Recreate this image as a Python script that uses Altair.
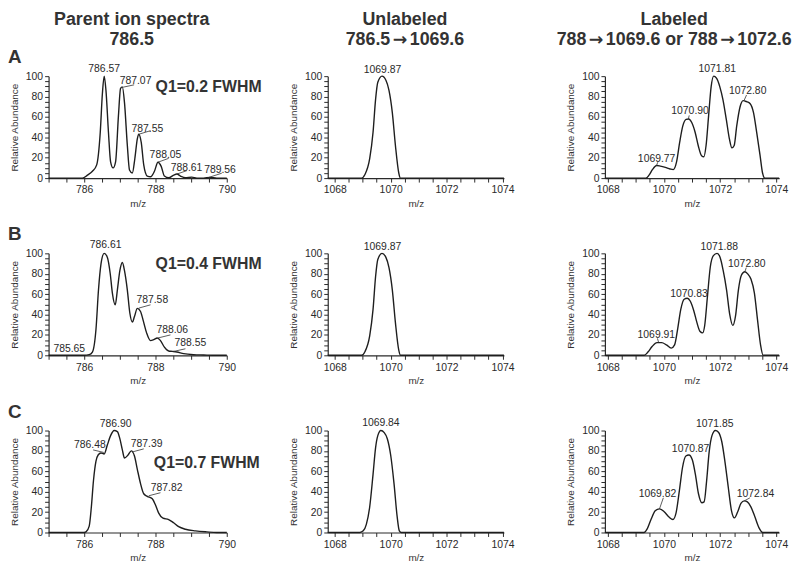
import altair as alt
import pandas as pd

FONT = "Liberation Sans"
INK = "#2a2a2a"

# ---------------- spectra ----------------
parA_mz = [785.00, 785.95, 786.09, 786.23, 786.35, 786.45, 786.51, 786.56, 786.61, 786.68, 786.74, 786.81,
           786.88, 786.96, 787.02, 787.07, 787.13, 787.21, 787.27, 787.35, 787.42, 787.49, 787.53, 787.60,
           787.67, 787.77, 787.86, 787.97, 788.07, 788.16, 788.25, 788.37, 788.51, 788.60, 788.70, 788.84,
           789.02, 789.16, 789.35, 789.53, 789.72, 790.00]
parA_int = [0, 0, 2.9, 6.7, 13, 45, 83, 100, 86, 45, 16, 10,
            16, 61, 88, 89.5, 74, 32, 8, 5, 19, 38.5, 43, 35,
            13, 2, 1.3, 6.7, 15.6, 11.5, 2, 0.3, 3, 4, 2, 0.3,
            1, 0, 0, 0.6, 0, 0]

parB_mz = [785.00, 786.00, 786.14, 786.23, 786.33, 786.40, 786.47, 786.56, 786.65, 786.73, 786.79, 786.87,
           786.93, 787.00, 787.07, 787.13, 787.21, 787.28, 787.35, 787.41, 787.49, 787.58, 787.66, 787.75,
           787.86, 787.95, 788.05, 788.14, 788.25, 788.37, 788.47, 788.60, 788.79, 789.07, 789.35, 789.72, 790.00]
parB_int = [0, 0, 0.6, 3.2, 25.6, 64, 89.5, 100, 96, 80, 61, 49.5,
            64, 83, 91, 83, 64, 41.5, 32.6, 38, 46, 43, 33.5, 22,
            14.4, 15.3, 17, 14.4, 8, 4.2, 3.8, 3.2, 1.6, 0.6, 0.3, 0, 0]

parC_mz = [785.00, 786.00, 786.05, 786.14, 786.20, 786.26, 786.33, 786.39, 786.47, 786.56, 786.65, 786.74,
           786.84, 786.93, 787.00, 787.07, 787.13, 787.23, 787.32, 787.41, 787.49, 787.58, 787.67, 787.77,
           787.91, 788.00, 788.09, 788.21, 788.37, 788.51, 788.65, 788.84, 789.12, 789.44, 789.72, 790.00]
parC_int = [0, 0, 0.6, 6.3, 25, 51, 70, 76, 78, 77, 86, 95,
            100, 99, 92, 81, 73, 76, 80, 75, 62, 48, 38, 35.5,
            33, 27, 19, 14, 12.7, 9.5, 5.7, 3.2, 1.6, 0.6, 0, 0]

unlA_mz = [1067.75, 1068.96, 1069.08, 1069.25, 1069.37, 1069.46, 1069.54, 1069.69, 1069.83, 1069.94,
           1070.06, 1070.17, 1070.29, 1070.35, 1074.05]
unlA_int = [0, 0, 3.5, 19, 45, 77, 94, 100, 96, 86, 64, 32, 5, 0, 0]

unlB_mz = [1067.75, 1068.96, 1069.08, 1069.25, 1069.37, 1069.46, 1069.54, 1069.69, 1069.83, 1069.94,
           1070.06, 1070.17, 1070.29, 1070.35, 1074.05]
unlB_int = [0, 0, 3.5, 19, 45, 77, 94, 100, 96, 86, 64, 32, 5, 0, 0]

unlC_mz = [1067.75, 1068.90, 1069.02, 1069.13, 1069.25, 1069.37, 1069.46, 1069.54, 1069.65, 1069.77,
           1069.88, 1070.00, 1070.12, 1070.23, 1070.31, 1070.38, 1074.05]
unlC_int = [0, 0, 1.6, 8, 25, 57, 83, 95, 100, 98, 92, 76, 48, 16, 1.6, 0, 0]

labA_mz = [1067.9, 1069.36, 1069.47, 1069.59, 1069.74, 1069.87, 1070.05, 1070.22, 1070.33, 1070.45,
           1070.56, 1070.67, 1070.79, 1070.88, 1070.99, 1071.11, 1071.22, 1071.34, 1071.42, 1071.50,
           1071.59, 1071.68, 1071.77, 1071.87, 1071.99, 1072.10, 1072.22, 1072.33, 1072.42, 1072.50,
           1072.59, 1072.71, 1072.82, 1072.94, 1073.07, 1073.19, 1073.30, 1073.42, 1073.51, 1073.59, 1074.1]
labA_int = [0, 0, 2.9, 8.3, 12.4, 11.8, 10.5, 8.9, 8.3, 16,
            35, 51, 57.6, 58, 54.5, 45, 32, 22, 21, 32,
            61, 89.5, 100, 98, 89.5, 77, 57.6, 38.5, 29.6, 32,
            51, 70, 76, 75, 73, 64, 45, 22.6, 5, 0, 0]

labB_mz = [1067.9, 1069.30, 1069.43, 1069.58, 1069.75, 1069.92, 1070.09, 1070.26, 1070.38, 1070.49,
           1070.60, 1070.72, 1070.83, 1070.94, 1071.06, 1071.17, 1071.28, 1071.38, 1071.45, 1071.55,
           1071.65, 1071.76, 1071.89, 1072.00, 1072.11, 1072.23, 1072.34, 1072.45, 1072.55, 1072.65,
           1072.76, 1072.88, 1072.99, 1073.10, 1073.22, 1073.33, 1073.44, 1073.53, 1074.1]
labB_int = [0, 0, 3.2, 8.6, 12.4, 12.4, 10.2, 7, 10.2, 26,
            45, 55, 56, 53, 44, 32.5, 23.6, 22, 29, 58,
            86.6, 97.8, 100, 96, 83, 64, 40.4, 29.3, 38.9, 64,
            78.7, 82, 79.6, 74.5, 61, 35, 10, 0, 0]

labC_mz = [1067.9, 1069.29, 1069.41, 1069.54, 1069.69, 1069.84, 1070.00, 1070.18, 1070.32, 1070.43,
           1070.55, 1070.66, 1070.78, 1070.89, 1071.01, 1071.12, 1071.23, 1071.35, 1071.43, 1071.52,
           1071.61, 1071.71, 1071.83, 1071.94, 1072.06, 1072.17, 1072.29, 1072.40, 1072.51, 1072.63,
           1072.74, 1072.86, 1072.97, 1073.09, 1073.23, 1073.38, 1073.52, 1074.1]
labC_int = [0, 0, 3.8, 12.7, 21.3, 23.2, 20.6, 15.2, 12.7, 19,
            41, 63.5, 75, 76, 71.4, 57, 38, 29.2, 30, 50.8,
            79, 95, 100, 98.4, 89, 69.8, 44.4, 22, 14.3, 20.6,
            28.6, 31, 30, 25.4, 15.9, 4.8, 0, 0]

# ---------------- peak annotations ----------------
# label text, label centre m/z, label baseline abundance
parA_lab = [("786.57", 786.56, 104), ("787.07", 787.44, 92), ("787.55", 787.77, 45),
            ("788.05", 788.28, 20), ("788.61", 788.87, 6.7), ("789.56", 789.81, 5)]
parB_lab = [("786.61", 786.60, 105), ("787.58", 787.91, 51), ("788.06", 788.47, 21.7),
            ("788.55", 788.98, 9.6), ("785.65", 785.58, 3.2)]
parC_lab = [("786.90", 786.88, 103), ("786.48", 786.16, 83), ("787.39", 787.75, 84),
            ("787.82", 788.31, 41)]
unlA_lab = [("1069.87", 1069.71, 103)]
unlB_lab = [("1069.87", 1069.71, 103)]
unlC_lab = [("1069.84", 1069.65, 104)]
labA_lab = [("1069.77", 1069.74, 16.2), ("1070.90", 1070.93, 62.4), ("1071.81", 1071.90, 104),
            ("1072.80", 1072.98, 82.5)]
labB_lab = [("1069.91", 1069.73, 17.2), ("1070.83", 1070.89, 57.3), ("1071.88", 1071.97, 103),
            ("1072.80", 1072.95, 86.6)]
labC_lab = [("1069.82", 1069.77, 35), ("1070.87", 1070.95, 79), ("1071.85", 1071.81, 103),
            ("1072.84", 1073.26, 35)]

# leader lines: m/z1, ab1, m/z2, ab2
parA_lead = [(787.07, 89, 787.40, 91.5), (787.53, 43, 787.86, 46.5), (788.07, 15.6, 788.37, 19.4),
             (788.60, 4, 788.88, 7.3), (789.49, 0.6, 789.86, 4.8)]
parB_lead = [(787.53, 46.3, 787.86, 49.5), (788.07, 17, 788.42, 20), (788.51, 3.8, 788.84, 6.4)]
parC_lead = [(786.25, 81, 786.55, 78.5), (787.35, 79, 787.67, 82), (787.81, 36, 788.14, 39)]
labA_lead = [(1069.74, 12.4, 1069.78, 15.6), (1070.87, 58, 1070.90, 61.5), (1072.85, 76, 1072.94, 81.5)]
labB_lead = [(1069.81, 12.7, 1069.77, 16.6), (1072.88, 81.8, 1072.93, 86)]
labC_lead = [(1069.84, 23, 1069.98, 34), (1072.86, 31, 1073.06, 34)]

# resolution labels: text, centre m/z, centre abundance
q1_A = ("Q1=0.2 FWHM", 789.49, 89.5)
q1_B = ("Q1=0.4 FWHM", 789.49, 89.5)
q1_C = ("Q1=0.7 FWHM", 789.44, 68)

# column headers: first line, second line split around the arrows
head1 = ["Parent ion spectra", "Unlabeled", "Labeled"]
head2 = [["786.5"], ["786.5", "\u2192", "1069.6"], ["788", "\u2192", "1069.6 or 788", "\u2192", "1072.6"]]
letters = ["A", "B", "C"]

par_dom = [785, 790]
unl_dom = [1067.75, 1074.05]
lab_dom = [1067.9, 1074.1]
par_ticks = [785 + 0.5 * i for i in range(11)]
hi_ticks = [1068 + 0.5 * i for i in range(13)]
y_ticks = list(range(0, 101, 5))

H = 103
HFS = 18      # header font size
AFS = 17.5    # arrow font size
# approximate advance widths (em) of the bold sans glyphs used in the headers
ADV = {"0": .556, "1": .556, "2": .556, "3": .556, "4": .556, "5": .556, "6": .556, "7": .556,
       "8": .556, "9": .556, ".": .278, " ": .278, "o": .611, "r": .389}
ARROW_EM = 0.838


def piece_width(s):
    if s == "\u2192":
        return ARROW_EM * AFS + 5
    return sum(ADV.get(c, .6) for c in s) * HFS


def header_layers(line1, pieces, hx):
    out = []
    d1 = pd.DataFrame({"txt": [line1]})
    out.append(alt.Chart(d1).mark_text(font=FONT, fontSize=HFS, fontWeight="bold", color="#333",
                                       align="center", baseline="alphabetic")
               .encode(x=alt.value(hx), y=alt.value(-52), text="txt:N"))
    total = sum(piece_width(s) for s in pieces)
    x0 = hx - total / 2
    for s in pieces:
        w = piece_width(s)
        d = pd.DataFrame({"txt": [s]})
        if s == "\u2192":
            m = alt.Chart(d).mark_text(font="DejaVu Sans", fontSize=AFS, fontWeight="bold", color="#333",
                                       align="center", baseline="alphabetic")
            out.append(m.encode(x=alt.value(x0 + w / 2), y=alt.value(-31.5), text="txt:N"))
        else:
            m = alt.Chart(d).mark_text(font=FONT, fontSize=HFS, fontWeight="bold", color="#333",
                                       align="left", baseline="alphabetic")
            out.append(m.encode(x=alt.value(x0), y=alt.value(-31.5), text="txt:N"))
        x0 += w
    return out


def panel(mz, ab, dom, ticks, width, labs, leads, q1=None, letter=None, hidx=None, hx=None):
    xs = alt.Scale(domain=dom, nice=False, zero=False)
    ys = alt.Scale(domain=[0, 100], nice=False)
    xaxis = alt.Axis(values=ticks, title="m/z", grid=False, tickSize=4, labelPadding=3,
                     titlePadding=3, labelFlush=False, labelOverlap=False,
                     labelExpr="datum.value % 2 == 0 ? format(datum.value, 'd') : ''")
    yaxis = alt.Axis(values=y_ticks, title="Relative Abundance", grid=False, tickSize=4,
                     labelPadding=2, titlePadding=6, labelOverlap=False, labelFlush=False,
                     labelExpr="datum.value % 20 == 0 ? datum.label : ''")

    def X(f):
        return alt.X(f, type="quantitative", scale=xs, axis=xaxis)

    def Y(f):
        return alt.Y(f, type="quantitative", scale=ys, axis=yaxis)

    layers = []
    df = pd.DataFrame({"mz": mz, "ab": ab})
    layers.append(alt.Chart(df).mark_line(color="#1e1e1e", strokeWidth=1.4, interpolate="monotone")
                  .encode(x=X("mz"), y=Y("ab")))
    if leads:
        ld = pd.DataFrame({"mz": [l[0] for l in leads], "ab": [l[1] for l in leads],
                           "mz2": [l[2] for l in leads], "ab2": [l[3] for l in leads]})
        layers.append(alt.Chart(ld).mark_rule(color="#333", strokeWidth=0.8)
                      .encode(x=X("mz"), y=Y("ab"), x2="mz2", y2="ab2"))
    lt = pd.DataFrame({"txt": [l[0] for l in labs], "mz": [l[1] for l in labs],
                       "ab": [l[2] for l in labs]})
    layers.append(alt.Chart(lt).mark_text(font=FONT, fontSize=10.5, color=INK, baseline="alphabetic")
                  .encode(x=X("mz"), y=Y("ab"), text="txt:N"))
    if q1:
        qd = pd.DataFrame({"txt": [q1[0]], "mz": [q1[1]], "ab": [q1[2]]})
        layers.append(alt.Chart(qd).mark_text(font=FONT, fontSize=16, fontWeight="bold", color="#333",
                                              baseline="middle")
                      .encode(x=X("mz"), y=Y("ab"), text="txt:N"))
    if letter:
        ldf = pd.DataFrame({"txt": [letter]})
        layers.append(alt.Chart(ldf).mark_text(font=FONT, fontSize=19, fontWeight="bold", color="#333",
                                               align="left", baseline="alphabetic")
                      .encode(x=alt.value(-41), y=alt.value(-13), text="txt:N"))
    if hidx is not None:
        layers.extend(header_layers(head1[hidx], head2[hidx], hx))
    return alt.layer(*layers).properties(width=width, height=H)


W1, W2, W3 = 180, 178, 176
p = []
p.append(panel(parA_mz, parA_int, par_dom, par_ticks, W1, parA_lab, parA_lead, q1_A, letters[0], 0, 84))
p.append(panel(unlA_mz, unlA_int, unl_dom, hi_ticks, W2, unlA_lab, [], hidx=1, hx=78))
p.append(panel(labA_mz, labA_int, lab_dom, hi_ticks, W3, labA_lab, labA_lead, hidx=2, hx=70))
p.append(panel(parB_mz, parB_int, par_dom, par_ticks, W1, parB_lab, parB_lead, q1_B, letters[1]))
p.append(panel(unlB_mz, unlB_int, unl_dom, hi_ticks, W2, unlB_lab, []))
p.append(panel(labB_mz, labB_int, lab_dom, hi_ticks, W3, labB_lab, labB_lead))
p.append(panel(parC_mz, parC_int, par_dom, par_ticks, W1, parC_lab, parC_lead, q1_C, letters[2]))
p.append(panel(unlC_mz, unlC_int, unl_dom, hi_ticks, W2, unlC_lab, []))
p.append(panel(labC_mz, labC_int, lab_dom, hi_ticks, W3, labC_lab, labC_lead))

chart = alt.concat(*p, columns=3, spacing={"row": 76, "column": 102}, bounds="flush").properties(
    padding=0
).configure_view(stroke=None).configure_axis(
    domainColor=INK, tickColor=INK, labelColor=INK, titleColor="#333",
    labelFont=FONT, titleFont=FONT, labelFontSize=10.5, titleFontSize=10,
    titleFontWeight="normal", domainWidth=1.2, tickWidth=1
)

chart.save("out.html", embed_options={"renderer": "svg", "actions": False})
